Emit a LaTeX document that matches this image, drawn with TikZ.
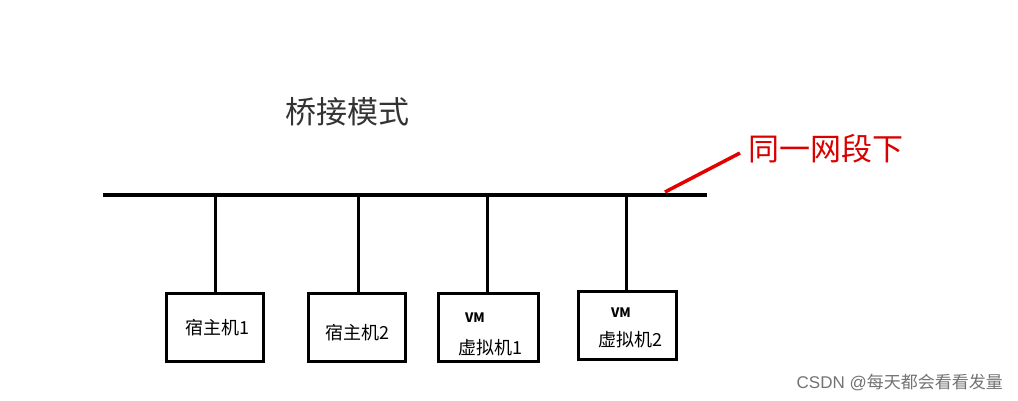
\documentclass[tikz,border=0pt]{standalone}
\usepackage{fontspec}
\newfontfamily\cjk{Noto Sans CJK SC}
\begin{document}
\begin{tikzpicture}[x=1pt,y=-1pt,
  hostbox/.style={draw=black,line width=3pt,minimum width=97pt,minimum height=68pt,inner sep=0pt},
  wire/.style={line width=3pt},
  lbl/.style={font=\cjk\fontsize{18}{20}\selectfont,inner sep=0pt},
  vmlbl/.style={font=\cjk\fontsize{13}{14}\selectfont\bfseries,inner sep=0pt}]
\useasboundingbox[fill=white] (0,0) rectangle (1018,400);
% bus
\coordinate (busL) at (103,195);
\coordinate (busR) at (707,195);
\draw[line width=4pt] (busL) -- (busR);
% boxes
\node[hostbox] (h1) at (215,327) {};
\node[hostbox] (h2) at (357,327) {};
\node[hostbox,minimum width=100pt] (v1) at (488,327) {};
\node[hostbox,minimum width=98pt] (v2) at (627,325) {};
% drops
\coordinate (t1) at (215,195);
\coordinate (t2) at (358,195);
\coordinate (t3) at (487,195);
\coordinate (t4) at (626,195);
\draw[wire] (t1) -- (t1 |- h1.north);
\draw[wire] (t2) -- (t2 |- h2.north);
\draw[wire] (t3) -- (t3 |- v1.north);
\draw[wire] (t4) -- (t4 |- v2.north);
% labels
\node[lbl] (l1) at (217,328) {宿主机1};
\node[lbl] (l2) at (357,333) {宿主机2};
\node[vmlbl] (vm1) at (475,318) {VM};
\node[lbl] (l3) at (490,348) {虚拟机1};
\node[vmlbl] (vm2) at (621,313) {VM};
\node[lbl] (l4) at (630,340) {虚拟机2};
% title
\node[font=\cjk\fontsize{31}{33}\selectfont,text=black!80,inner sep=0pt] (title) at (347,112) {桥接模式};
% red annotation
\node[font=\cjk\fontsize{31}{33}\selectfont,text=red!85!black,inner sep=0pt,anchor=west] (note) at (748,149) {同一网段下};
\coordinate (pt) at (665,192);
\coordinate (pe) at (740,153);
\draw[red!90!black,line width=3.5pt] (pt) -- (pe);
% watermark
\node[font=\fontspec{Liberation Sans}\fontsize{17}{18}\selectfont,text=black!55,inner sep=0pt,anchor=east] (wm) at (1003,382) {CSDN @{\cjk 每天都会看看发量}};
\end{tikzpicture}
\end{document}
